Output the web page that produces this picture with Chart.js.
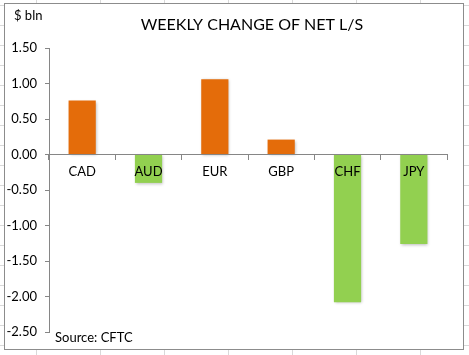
<!DOCTYPE html>
<html>
<head>
<meta charset="utf-8">
<script src="https://cdn.jsdelivr.net/npm/chart.js@4/dist/chart.umd.min.js"></script>
<style>
  html, body { margin: 0; padding: 0; }
  body {
    width: 469px; height: 355px; position: relative; overflow: hidden;
    background-color: #fff;
    background-image:
      linear-gradient(to right, #d9d9d9 1px, transparent 1px),
      linear-gradient(to bottom, #d9d9d9 1px, transparent 1px);
    background-size: 64px 20px, 64px 20px;
    background-position: 36px 5px, 0 5px;
  }
  #box {
    position: absolute; left: 4px; top: 3px; width: 460px; height: 347px;
    background: #fff; border: 1px solid #8c8c8c; box-sizing: border-box;
  }
  #wrap { position: absolute; left: 0; top: 0; width: 469px; height: 355px; }
</style>
</head>
<body>
<div id="box"></div>
<div id="wrap"><canvas id="c" width="469" height="355"></canvas></div>
<script>
const categories = ["CAD", "AUD", "EUR", "GBP", "CHF", "JPY"];
const weeklyChange = [0.76, -0.40, 1.06, 0.21, -2.08, -1.26];
const yTicks = [1.5, 1.0, 0.5, 0.0, -0.5, -1.0, -1.5, -2.0, -2.5];
const titleText = "WEEKLY CHANGE OF NET L/S";
const unitText = "$ bln";
const sourceText = "Source: CFTC";

const ORANGE = "#E46C0A";
const GREEN = "#92D050";
const FONT = "Lato, 'Open Sans', sans-serif";

const textPlugin = {
  id: "texts",
  afterDraw(chart) {
    const ctx = chart.ctx;
    ctx.save();
    ctx.fillStyle = "#000";
    ctx.textBaseline = "middle";
    ctx.textAlign = "center";
    ctx.font = "16px " + FONT;
    ctx.fillText(titleText, 252, 25);
    ctx.textAlign = "left";
    ctx.font = "13px " + FONT;
    ctx.fillText(unitText, 14, 16);
    ctx.fillText(sourceText, 55, 338);
    ctx.restore();
  }
};

const shadowPlugin = {
  id: "barShadow",
  beforeDatasetsDraw(chart) {
    const ctx = chart.ctx;
    ctx.save();
    ctx.shadowColor = "rgba(0,0,0,0.28)";
    ctx.shadowBlur = 3;
    ctx.shadowOffsetX = 1;
    ctx.shadowOffsetY = 1;
  },
  afterDatasetsDraw(chart) {
    chart.ctx.restore();
  }
};

new Chart(document.getElementById("c"), {
  type: "bar",
  data: {
    labels: categories,
    datasets: [{
      data: weeklyChange,
      backgroundColor: (c) => (c.raw >= 0 ? ORANGE : GREEN),
      borderWidth: 0,
      barPercentage: 0.41,
      categoryPercentage: 1.0
    }]
  },
  options: {
    responsive: false,
    animation: false,
    layout: { padding: { left: 0, right: 22, top: 48, bottom: 23 } },
    plugins: {
      legend: { display: false },
      tooltip: { enabled: false },
      title: { display: false }
    },
    scales: {
      x: {
        position: { y: 0 },
        offset: true,
        grid: {
          offset: true,
          drawOnChartArea: false,
          drawTicks: true,
          tickLength: 5,
          color: "#868686",
          z: 1
        },
        border: { display: true, color: "#868686", width: 1, z: 1 },
        ticks: {
          color: "#000",
          font: { family: FONT, size: 13 },
          padding: 5,
          maxRotation: 0,
          z: 2
        }
      },
      y: {
        min: -2.5,
        max: 1.5,
        afterFit(scale) { scale.width = 49; },
        afterBuildTicks(scale) { scale.ticks = yTicks.map(v => ({ value: v })); },
        grid: {
          drawOnChartArea: false,
          drawTicks: true,
          tickLength: 4,
          color: "#868686"
        },
        border: { display: true, color: "#868686", width: 1 },
        ticks: {
          color: "#000",
          font: { family: FONT, size: 13 },
          padding: 8,
          callback: (v) => Number(v).toFixed(2)
        }
      }
    }
  },
  plugins: [shadowPlugin, textPlugin]
});
</script>
</body>
</html>
